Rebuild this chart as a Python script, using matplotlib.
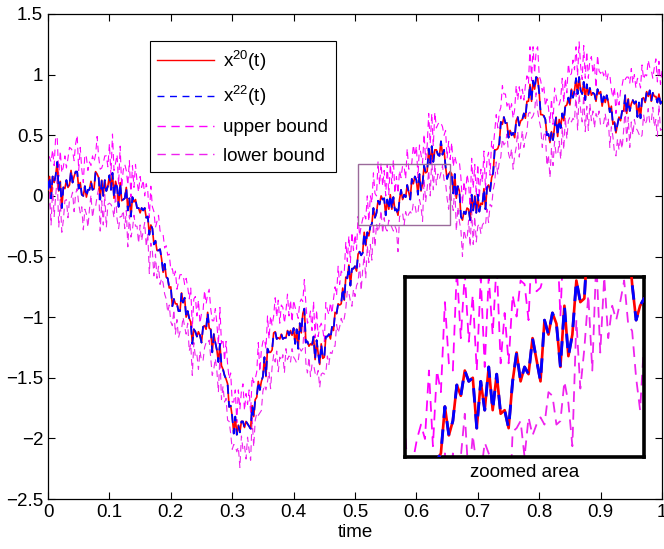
import numpy as np
import matplotlib
matplotlib.use("Agg")
import matplotlib.pyplot as plt
from matplotlib.patches import Rectangle

plt.rcParams['font.family'] = ['Liberation Sans', 'DejaVu Sans']
plt.rcParams['mathtext.fontset'] = 'custom'
plt.rcParams['mathtext.rm'] = 'Liberation Sans'
plt.rcParams['mathtext.it'] = 'Liberation Sans'

# time grid step 0.0025 from 0 to 1 (401 samples)
dt = 0.0025
# coarse course of the path x^20(t)
x20_course = [
 0.05, 0.10, 0.03, 0.12, 0.18, 0.14, 0.20, 0.08, 0.10, -0.04, 0.02, 0.09, 0.06, 0.12, 0.08, 0.15, 0.19, 0.13, 0.22, 0.15,
 0.10, 0.04, 0.07, -0.02, 0.03, 0.06, 0.01, 0.08, 0.04, 0.10, 0.06, 0.14, 0.22, 0.12, 0.05, 0.08, 0.02, 0.06, 0.10, 0.07,
 0.12, 0.08, 0.13, 0.06, 0.10, 0.03, -0.04, 0.04, -0.02, 0.03, -0.05, -0.01, -0.08, -0.03, -0.10, -0.06, -0.02, -0.09, -0.05, -0.12,
 -0.08, -0.14, -0.10, -0.17, -0.13, -0.20, -0.24, -0.30, -0.27, -0.36, -0.42, -0.38, -0.47, -0.52, -0.49, -0.58, -0.62, -0.66, -0.72, -0.70,
 -0.78, -0.84, -0.90, -0.87, -0.95, -0.91, -0.96, -0.88, -0.82, -0.86, -0.95, -1.02, -0.98, -1.08, -1.14, -1.10, -1.17, -1.12, -1.19, -1.13,
 -1.16, -1.10, -1.14, -1.04, -0.99, -1.08, -1.15, -1.22, -1.18, -1.27, -1.24, -1.32, -1.30, -1.38, -1.46, -1.42, -1.52, -1.62, -1.70, -1.78,
 -1.84, -1.90, -1.86, -1.94, -1.97, -1.90, -1.86, -1.92, -1.84, -1.89, -1.93, -1.86, -1.90, -1.80, -1.76, -1.72, -1.65, -1.58, -1.52, -1.56,
 -1.46, -1.38, -1.42, -1.32, -1.28, -1.33, -1.22, -1.15, -1.19, -1.12, -1.20, -1.16, -1.22, -1.14, -1.18, -1.10, -1.16, -1.12, -1.17, -1.10,
 -1.15, -1.20, -1.13, -1.18, -1.10, -1.14, -0.93, -1.00, -1.16, -1.22, -1.18, -1.26, -1.20, -1.24, -1.28, -1.22, -1.30, -1.34, -1.28, -1.32,
 -1.26, -1.20, -1.15, -1.19, -1.12, -1.16, -1.08, -0.98, -0.92, -0.96, -0.86, -0.90, -0.82, -0.78, -0.70, -0.66, -0.62, -0.68, -0.64, -0.60,
 -0.62, -0.56, -0.50, -0.53, -0.46, -0.42, -0.36, -0.40, -0.33, -0.26, -0.30, -0.21, -0.18, -0.12, -0.15, -0.08, -0.03, -0.06, 0.00, -0.04,
 -0.14, -0.10, -0.06, -0.02, -0.03, -0.07, -0.11, -0.15, -0.10, -0.05, -0.02, 0.01, -0.02, 0.04, 0.01, 0.05, 0.03, 0.09, 0.13, 0.10,
 0.08, 0.05, 0.10, 0.06, 0.16, 0.22, 0.18, 0.27, 0.33, 0.30, 0.37, 0.33, 0.36, 0.31, 0.38, 0.34, 0.39, 0.42, 0.35, 0.26,
 0.20, 0.15, 0.22, 0.12, 0.06, 0.10, 0.03, 0.07, 0.00, -0.10, -0.22, -0.18, -0.12, -0.16, -0.10, -0.14, -0.06, -0.10, -0.04, -0.09,
 -0.02, -0.08, -0.12, -0.06, 0.02, -0.03, 0.05, 0.02, 0.08, 0.14, 0.25, 0.33, 0.40, 0.36, 0.50, 0.55, 0.62, 0.57, 0.65, 0.58,
 0.52, 0.48, 0.53, 0.47, 0.55, 0.60, 0.57, 0.63, 0.61, 0.66, 0.62, 0.70, 0.74, 0.80, 0.85, 0.82, 0.92, 0.96, 0.93, 0.98,
 0.78, 0.70, 0.66, 0.72, 0.58, 0.52, 0.47, 0.51, 0.45, 0.50, 0.55, 0.59, 0.54, 0.60, 0.57, 0.63, 0.68, 0.72, 0.78, 0.74,
 0.80, 0.84, 0.88, 0.85, 0.91, 0.87, 0.93, 0.88, 0.90, 0.86, 0.83, 0.89, 0.85, 0.82, 0.88, 0.84, 0.80, 0.85, 0.82, 0.87,
 0.84, 0.80, 0.77, 0.81, 0.76, 0.79, 0.74, 0.68, 0.62, 0.57, 0.60, 0.56, 0.64, 0.68, 0.65, 0.72, 0.76, 0.72, 0.78, 0.75,
 0.79, 0.74, 0.77, 0.72, 0.70, 0.74, 0.71, 0.76, 0.79, 0.83, 0.80, 0.85, 0.82, 0.86, 0.81, 0.84, 0.79, 0.82, 0.77, 0.80,
 0.78,
]
# fine wiggles of the path (hundredths)
x20_wiggle = [
 0, 6, -5, 4, -7, 3, 8, -4, 2, -6, 5, -3, 7, -5, 1, 6, -8, 3, -2, 5,
 -4, 7, -6, 2, 5, -7, 4, -3, 8, -5, 0, 6, -4, 3, -8, 5, -2, 7, -6, 1,
 5, -3, 6, -8, 2, 4, -5, 7, -2, -6, 3, 8, -4, 1, -7, 5, -3, 6, -5, 2,
 -6, 4, -2, 7, -5, 3, -8, 6, 0, -4, 5, -7, 2, 8, -3, -5, 6, -1, 4, -6,
 3, -7, 5, -2, 6, -4, 1, 8, -6, 2, -5, 7, -3, 4, -8, 0, 5, -4, 7, -2,
 -5, 2, 7, -6, 3, -1, 5, -7, 4, 6, -3, -5, 8, -2, 3, -6, 1, 7, -4, 5,
 2, -6, 4, -3, 8, -5, 0, 6, -7, 3, 5, -4, -2, 7, -6, 4, -1, 5, -8, 3,
 -3, 5, -7, 6, -1, 4, -5, 2, 7, -6, 3, -2, 8, -4, 1, -7, 5, -3, 6, -5,
 6, -2, 3, -8, 5, 1, -4, 7, -5, 2, -6, 4, -3, 8, -7, 3, 0, -5, 6, -2,
 -7, 4, -1, 5, -6, 8, -3, 2, -5, 7, -4, 1, 6, -8, 3, -2, 5, -6, 4, 0,
 4, -6, 2, 7, -3, -5, 6, -1, 3, -7, 5, -2, 8, -6, 1, 4, -4, 6, -3, 2,
 -2, 7, -5, 3, -8, 6, -1, 4, -6, 2, 7, -4, 3, -5, 8, -2, -6, 5, -3, 6,
 5, -4, 8, -2, -6, 3, 1, -7, 6, -3, 4, -5, 2, 7, -4, -1, 6, -8, 3, -2,
 -6, 3, -2, 6, -4, 8, -5, 1, 4, -7, 2, 5, -3, 6, -1, -6, 7, -2, 4, -5,
 3, -5, 6, -1, 4, -8, 2, 7, -4, 1, -6, 5, -2, 3, -7, 6, -3, 8, -5, 2,
 -4, 6, -3, 5, -7, 2, 8, -5, 1, -3, 6, -6, 4, -2, 7, -4, 3, -8, 5, -1,
 7, -3, 1, -6, 5, -2, 4, -7, 8, -4, 2, 6, -5, 3, -1, 5, -6, 2, -3, 7,
 -5, 4, -7, 2, 6, -3, 5, -1, -6, 8, -4, 3, -2, 7, -5, 1, 4, -7, 6, -3,
 2, -6, 5, -4, 7, -2, -5, 6, -3, 4, -8, 3, 1, -6, 5, -2, 7, -4, 2, -5,
 -3, 5, -1, 6, -5, 3, -7, 4, 2, -6, 6, -3, 5, -8, 4, -2, 3, -5, 7, -4,
 0,
]
# distance of the bounds from the path: mean gap and their own wiggles (hundredths)
bound_gap = 0.20
upper_wiggle = [
 8, -4, 10, 2, -6, 12, 0, -8, 5, 9, -3, 7, -10, 4, 11, -2, 6, -7, 3, 10,
 -5, 9, 1, -9, 6, 13, -4, 3, -7, 8, 2, -6, 11, -3, 5, -10, 7, 0, 9, -4,
 6, -8, 12, 3, -5, 7, -2, 10, -9, 4, 8, -6, 1, 11, -4, 6, -8, 9, 2, -7,
 10, -3, 5, -10, 8, 1, -6, 12, -2, 7, -9, 4, 9, -5, 2, 11, -7, 6, -1, 8,
 -6, 11, -2, 7, -8, 4, 10, -5, 3, -9, 12, 0, -4, 8, -7, 5, 9, -3, 6, -10,
 4, -7, 9, 1, -5, 12, -3, 6, -9, 8, 2, -6, 10, -2, 5, -8, 11, -4, 3, 7,
 -8, 6, 2, -10, 9, -1, 5, 11, -6, 3, -4, 10, -7, 4, 8, -3, 1, 12, -5, 6,
 9, -5, 3, 7, -9, 10, 0, -6, 8, -2, 11, -7, 4, 6, -8, 2, 10, -4, 5, -9,
 3, 10, -6, 5, -3, 8, -10, 4, 12, -5, 1, 7, -8, 9, -2, 5, -6, 11, -3, 4,
 -7, 8, 2, -4, 10, -9, 6, 1, -5, 11, -3, 7, -8, 3, 9, -6, 4, -1, 10, -5,
 6, -2, 11, -7, 4, 8, -5, 2, 10, -8, 5, -3, 9, 0, -6, 12, -4, 7, -9, 3,
 -4, 9, -8, 5, 1, 11, -6, 7, -2, 4, -10, 8, 3, -5, 10, -1, 6, -7, 12, -3,
 8, -6, 4, 10, -3, 6, -9, 1, 9, -4, 7, -7, 11, -2, 5, 8, -5, 3, -8, 10,
 -3, 7, -10, 6, 2, -5, 9, -1, 4, 12, -7, 5, -4, 8, 1, -9, 10, -2, 6, -6,
 5, -9, 8, -2, 11, -4, 3, 7, -7, 10, 0, -5, 9, -3, 6, -8, 12, -1, 4, -6,
 10, -4, 6, -8, 3, 9, -6, 12, -2, 5, -9, 7, 1, -5, 11, -3, 8, -7, 2, 6,
 -6, 8, -1, 5, -9, 10, 2, -4, 7, -7, 12, -3, 6, -8, 4, 9, -5, 3, -10, 8,
 4, -7, 11, -3, 6, -5, 9, 0, -8, 10, -2, 7, -6, 3, 12, -4, 5, -9, 8, -1,
 -5, 10, -3, 7, -8, 4, 11, -6, 2, 9, -4, 6, -10, 5, 1, 8, -7, 10, -2, 3,
 9, -6, 4, -9, 12, -2, 5, 8, -5, 3, -7, 10, -1, 6, -8, 4, 11, -3, 7, -4,
 5,
]
lower_wiggle = [
 -6, 9, -2, 11, -8, 3, 7, -10, 5, 0, -7, 10, 4, -5, 8, -3, 12, -9, 2, 6,
 7, -5, 10, -8, 1, 6, -11, 4, 9, -3, 5, -9, 2, 11, -6, 3, -4, 8, -10, 5,
 -3, 8, -9, 4, 10, -6, 2, -8, 7, 11, -5, 1, -10, 6, 3, -7, 9, -2, 5, -9,
 10, -7, 3, 8, -4, 6, -12, 5, 1, -6, 9, -3, 7, -9, 4, 11, -5, 2, -8, 6,
 -9, 4, 11, -5, 7, -2, 3, -10, 8, -4, 6, 10, -7, 2, -6, 9, -1, 5, -11, 7,
 5, -8, 2, 9, -6, 10, -4, 1, -9, 7, 3, -5, 11, -8, 6, -2, 4, -10, 8, -3,
 -7, 11, -4, 6, 2, -9, 8, -3, 5, -11, 9, 0, -6, 10, -5, 3, 7, -8, 1, -4,
 8, -3, 9, -7, 4, -10, 6, 2, -5, 10, -8, 5, -2, 7, -9, 11, -4, 3, -6, 9,
 -4, 7, -8, 10, -1, 5, -9, 8, 3, -6, 11, -7, 4, -3, 9, -10, 6, 1, -5, 8,
 6, -10, 4, -5, 9, -2, 7, -8, 11, -4, 2, 8, -9, 5, -6, 10, -3, 7, -11, 3,
 -5, 8, -3, 10, -9, 6, 1, -7, 9, -2, 5, -10, 7, -4, 11, -6, 3, 8, -8, 4,
 9, -6, 11, -4, 5, -8, 7, 3, -10, 6, -1, 9, -5, 8, -7, 2, 10, -9, 4, -3,
 -8, 5, -1, 7, -11, 9, -4, 6, 2, -7, 10, -3, 8, -9, 4, 1, -6, 11, -5, 7,
 4, -9, 8, -3, 6, 10, -7, 3, -5, 9, -10, 5, 1, -6, 11, -2, 7, -8, 3, -4,
 -6, 10, -5, 3, -8, 7, 2, -11, 9, -4, 6, -7, 10, -1, 5, -9, 8, -3, 4, 11,
 7, -4, 9, -10, 5, -2, 8, -6, 1, 11, -8, 4, -5, 10, -3, 6, -9, 2, 7, -7,
 -3, 9, -7, 4, 10, -5, 3, -9, 7, -1, 8, -11, 5, 2, -6, 9, -4, 11, -8, 1,
 10, -7, 3, -5, 8, -10, 6, 4, -3, 9, -6, 2, -9, 7, -1, 5, -8, 10, -4, 6,
 -8, 4, -2, 11, -6, 7, -9, 3, 10, -5, 1, 8, -7, 6, -11, 4, 9, -3, 5, -10,
 5, -9, 7, -2, 9, -6, 4, -10, 6, 2, -4, 10, -7, 3, 8, -5, 1, -8, 11, -2,
 -3,
]
zoom_t = [0.505, 0.655]
zoom_y = [-0.24, 0.26]
xticks = [0, 0.1, 0.2, 0.3, 0.4, 0.5, 0.6, 0.7, 0.8, 0.9, 1]
yticks = [-2.5, -2, -1.5, -1, -0.5, 0, 0.5, 1, 1.5]
labels = [r'x$^{20}$(t)', r'x$^{22}$(t)', 'upper bound', 'lower bound']

t = np.arange(len(x20_course)) * dt
y20 = np.array(x20_course) + np.array(x20_wiggle) / 100.0
y22 = y20.copy()
upper = y20 + bound_gap + np.array(upper_wiggle) / 100.0
lower = y20 - bound_gap + np.array(lower_wiggle) / 100.0

fig = plt.figure(figsize=(6.64, 5.49), dpi=100)
ax = fig.add_axes([0.0723, 0.091, 0.9247, 0.8835])

def draw(a, s=1.0):
    a.plot(t, upper, color='#ff00ff', lw=0.8 * s, ls=(0, (6, 4)), label=labels[2], zorder=2)
    a.plot(t, lower, color='#ee22ee', lw=0.8 * s, ls=(0, (6, 4)), label=labels[3], zorder=2)
    a.plot(t, y20, color='red', lw=1.2 * s, label=labels[0], zorder=3)
    a.plot(t, y22, color='blue', lw=1.3 * s, ls=(0, (5, 4)), label=labels[1], zorder=4)

draw(ax)
ax.set_xlim(0, 1)
ax.set_ylim(-2.5, 1.5)
ax.set_xticks(xticks)
ax.set_xticklabels([f'{v:g}' for v in xticks])
ax.set_yticks(yticks)
ax.set_yticklabels([f'{v:g}'.replace('-', '\u2212') for v in yticks])
ax.tick_params(direction='in', top=True, right=True, labelsize=13.5, length=5, width=0.8)
for s in ax.spines.values():
    s.set_linewidth(0.9)
ax.set_xlabel('time', fontsize=13.5, labelpad=2)

ax.add_patch(Rectangle((zoom_t[0], zoom_y[0]), zoom_t[1] - zoom_t[0], zoom_y[1] - zoom_y[0],
                       fill=False, edgecolor='#9a6a9a', lw=1.0, zorder=5))

h, l = ax.get_legend_handles_labels()
order = [l.index(name) for name in labels]
leg = ax.legend([h[i] for i in order], [l[i] for i in order],
                loc='upper left', bbox_to_anchor=(0.166, 0.944), fontsize=13.5,
                frameon=True, fancybox=False, edgecolor='black', framealpha=1,
                handlelength=3.0, borderaxespad=0, labelspacing=0.6,
                borderpad=0.4, handletextpad=0.5)
leg.get_frame().set_linewidth(0.8)
for line in leg.get_lines():
    line.set_linewidth(1.0)

ins = fig.add_axes([0.61, 0.1676, 0.36, 0.328])
draw(ins, s=1.6)
ins.set_xlim(*zoom_t)
ins.set_ylim(*zoom_y)
ins.set_xticks([])
ins.set_yticks([])
for s in ins.spines.values():
    s.set_linewidth(2.6)
ins.set_xlabel('zoomed area', fontsize=13.5, labelpad=5)

fig.savefig('out.png', dpi=100)
